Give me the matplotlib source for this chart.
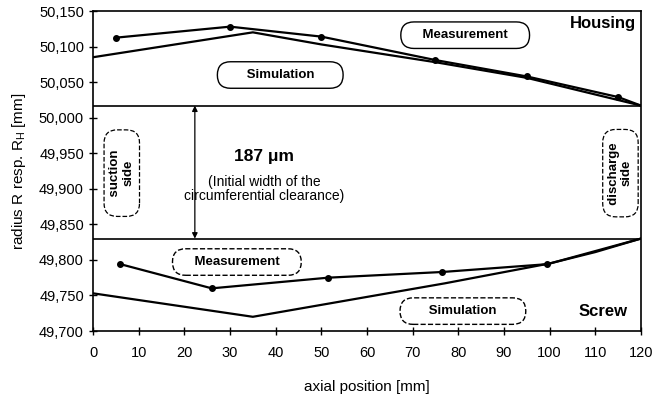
import matplotlib.pyplot as plt
from matplotlib.ticker import FuncFormatter

plt.rcParams['font.family'] = ['Liberation Sans', 'DejaVu Sans']

# housing (upper band)
housing_meas_x = [5, 30, 50, 75, 95, 115, 120]
housing_meas_y = [50112.5, 50128, 50114, 50081, 50058, 50029, 50017]
housing_sim_x = [0, 35, 50, 75, 95, 120]
housing_sim_y = [50085, 50120, 50103, 50078, 50056, 50017]

# screw (lower band)
screw_meas_x = [6, 26, 51.5, 76.5, 99.5, 120]
screw_meas_y = [49794, 49760, 49775, 49783, 49794, 49830]
screw_sim_x = [0, 35, 52, 77, 100, 110, 120]
screw_sim_y = [49753, 49720, 49739, 49767, 49795, 49811, 49830]

housing_edge = 50017
screw_edge = 49830
y_ticks = [49700, 49750, 49800, 49850, 49900, 49950, 50000, 50050, 50100, 50150]
x_ticks = list(range(0, 121, 10))

fig = plt.figure(figsize=(6.63, 3.99), dpi=100)
ax = fig.add_axes([0.1403, 0.1704, 0.8265, 0.802])

ax.plot(housing_meas_x[:-1], housing_meas_y[:-1], 'o', color='black', ms=4)
ax.plot(housing_meas_x, housing_meas_y, '-', color='black', lw=1.6)
ax.plot(housing_sim_x, housing_sim_y, '-', color='black', lw=1.6)
ax.plot(screw_meas_x[:-1], screw_meas_y[:-1], 'o', color='black', ms=4)
ax.plot(screw_meas_x, screw_meas_y, '-', color='black', lw=1.6)
ax.plot(screw_sim_x, screw_sim_y, '-', color='black', lw=1.6)

ax.axhline(housing_edge, color='black', lw=1.2)
ax.axhline(screw_edge, color='black', lw=1.2)

ax.annotate('', xy=(22.3, housing_edge), xytext=(22.3, screw_edge),
            arrowprops=dict(arrowstyle='<|-|>', color='black', lw=0.9,
                            shrinkA=0, shrinkB=0, mutation_scale=8))

ax.text(37.5, 49945, '187 \u03bcm', ha='center', va='center', fontsize=12.5, fontweight='bold')
ax.text(37.5, 49900, '(Initial width of the\ncircumferential clearance)', ha='center',
        va='center', fontsize=10, linespacing=1.0)

box_solid = dict(boxstyle='round,pad=0.55,rounding_size=1.0', fc='white', ec='black', lw=1.0)
box_dash = dict(boxstyle='round,pad=0.55,rounding_size=1.0', fc='white', ec='black', lw=1.0, ls='--')

ax.text(81.5, 50116, '    Measurement    ', ha='center', va='center', fontsize=9.5,
        fontweight='bold', bbox=box_solid)
ax.text(41, 50060, '      Simulation      ', ha='center', va='center', fontsize=9.5,
        fontweight='bold', bbox=box_solid)
ax.text(31.5, 49797, '    Measurement    ', ha='center', va='center', fontsize=9.5,
        fontweight='bold', bbox=box_dash)
ax.text(81, 49728, '      Simulation      ', ha='center', va='center', fontsize=9.5,
        fontweight='bold', bbox=box_dash)

side_box = dict(boxstyle='round,pad=0.4,rounding_size=1.0', fc='white', ec='black', lw=0.9, ls='--')
ax.text(6.3, 49922, '    suction    \nside', ha='center', va='center', rotation=90,
        fontsize=9.5, fontweight='bold', linespacing=1.1, bbox=side_box)
ax.text(115.5, 49922, '  discharge  \nside', ha='center', va='center', rotation=90,
        fontsize=9.5, fontweight='bold', linespacing=1.1, bbox=side_box)

ax.text(119, 50133, 'Housing', ha='right', va='center', fontsize=12, fontweight='bold')
ax.text(117, 49727, 'Screw', ha='right', va='center', fontsize=12, fontweight='bold')

ax.set_xlim(0, 120)
ax.set_ylim(49700, 50150)
ax.set_xticks(x_ticks)
ax.set_yticks(y_ticks)
ax.yaxis.set_major_formatter(FuncFormatter(lambda v, p: '{:,.0f}'.format(v)))
ax.tick_params(direction='inout', length=6, width=1, labelsize=10.5)
ax.tick_params(axis='x', pad=8)
for s in ax.spines.values():
    s.set_linewidth(1.2)

ax.set_xlabel('axial position [mm]', fontsize=11, labelpad=14)
ax.set_ylabel('radius R resp. R$_\\mathregular{H}$ [mm]', fontsize=11, labelpad=8)

fig.savefig('out.png', dpi=100)
